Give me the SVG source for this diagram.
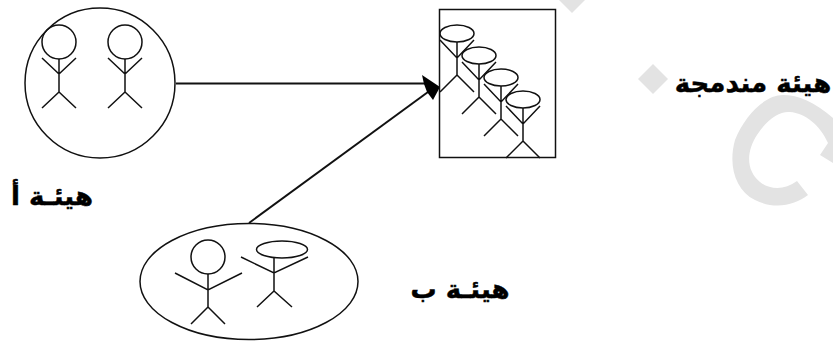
<svg xmlns="http://www.w3.org/2000/svg" width="833" height="341" viewBox="0 0 833 341">
<style>
.s{fill:none;stroke:#111;stroke-width:1.5}
.c{fill:none;stroke:#111;stroke-width:2}
.t{font-family:"DejaVu Sans",sans-serif;font-weight:bold;fill:#000;stroke:#000;stroke-width:.5;text-anchor:middle;direction:rtl}
.w{fill:#e3e3e3}
</style>
<defs>
<g id="pc"><circle class="s" cx="0" cy="-17" r="17"/><path class="s" d="M0 0V33M-17 -1L0 15L17 -1M-17 49L0 33L17 49"/></g>
<g id="pe"><ellipse class="s" cx="0" cy="-8.500" rx="17" ry="8.500"/><path class="s" d="M0 0V33M-17 -2L0 16L17 -2M-17 50L0 33L17 50"/></g>
</defs>
<g id="watermark">
<path class="w" d="M557 -2L572 13L587 -2Z"/>
<path class="w" d="M638 79L653 64L668 79L653 94Z"/>
<path class="w" d="M833 118C815 102 798 95 783 95C765 95 745 115 735 140C728 165 735 190 755 200C775 210 795 205 808 195L797 181C785 190 770 190 760 182C745 170 747 150 757 135C768 118 780 111 790 112C805 113 820 125 828 143L820 155L833 163Z"/>
</g>
<g id="connectors">
<path class="c" d="M176 83.500H426"/>
<path class="c" d="M249 223L428 92"/>
<path fill="#000" d="M422 75L440 87L433 100L427 92L424 84Z"/>
</g>
<g id="node-a">
<circle class="s" cx="100" cy="83" r="75"/>
<use href="#pc" x="59" y="59"/>
<use href="#pc" x="125" y="59"/>
<text class="t" x="52" y="205" font-size="26">هيئـة أ</text>
</g>
<g id="node-b">
<ellipse class="s" cx="249" cy="281.500" rx="109" ry="58"/>
<circle class="s" cx="208" cy="257" r="17"/>
<path class="s" d="M208 274V307M175 273L208 290L242 273M191 324L208 307L225 324"/>
<ellipse class="s" cx="282" cy="249.500" rx="25.500" ry="8.500"/>
<path class="s" d="M274 258V291M241 257L274 273L308 257M257 307L274 291L292 307"/>
<text class="t" x="460" y="298" font-size="26">هيئـة ب</text>
</g>
<g id="node-merged">
<rect x="439.500" y="9.500" width="116" height="148" fill="none" stroke="#111" stroke-width="1.500"/>
<use href="#pe" x="457" y="42"/>
<use href="#pe" x="479" y="64"/>
<use href="#pe" x="501" y="86"/>
<use href="#pe" x="523" y="108"/>
<text class="t" x="753" y="92" font-size="26">هيئة مندمجة</text>
</g>
</svg>
